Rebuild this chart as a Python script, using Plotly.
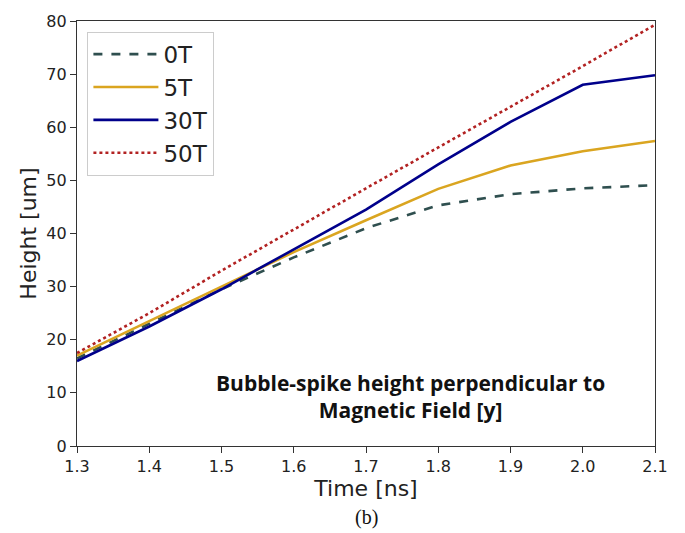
import plotly.graph_objects as go

time_ns = [1.3, 1.4, 1.5, 1.6, 1.7, 1.8, 1.9, 2.0, 2.1]
h_0T = [16.5, 23.0, 29.5, 35.5, 41.0, 45.3, 47.4, 48.5, 49.1]
h_5T = [17.0, 23.5, 30.0, 36.5, 42.5, 48.4, 52.8, 55.5, 57.4]
h_30T = [16.0, 22.5, 29.5, 37.0, 44.5, 53.0, 61.0, 68.0, 69.8]
h_50T = [17.5, 25.0, 33.0, 40.8, 48.5, 56.2, 63.8, 71.5, 79.3]

series = [
    ("0T", h_0T, "#2F4F4F", "dash"),
    ("5T", h_5T, "#DAA520", "solid"),
    ("30T", h_30T, "#00008B", "solid"),
    ("50T", h_50T, "#B22222", "dot"),
]

fig = go.Figure()
for name, ys, color, dash in series:
    fig.add_trace(go.Scatter(x=time_ns, y=ys, mode="lines", name=name,
                             line=dict(color=color, width=2.6, dash=dash)))

axis_common = dict(showgrid=False, zeroline=False, showline=True, linecolor="#333",
                   linewidth=1.2, mirror=True, ticks="outside", ticklen=6,
                   tickcolor="#333", tickfont=dict(family="DejaVu Sans", size=16, color="#222"))

fig.update_xaxes(range=[1.3, 2.1], tickvals=time_ns,
                 ticktext=["1.3", "1.4", "1.5", "1.6", "1.7", "1.8", "1.9", "2.0", "2.1"],
                 title=dict(text="Time [ns]", font=dict(family="DejaVu Sans", size=22, color="#222"), standoff=3),
                 **axis_common)
fig.update_yaxes(range=[0, 80], tickvals=[0, 10, 20, 30, 40, 50, 60, 70, 80],
                 title=dict(text="Height [um]", font=dict(family="DejaVu Sans", size=22, color="#222"), standoff=3),
                 **axis_common)

fig.add_annotation(x=1.761, y=9.3, xref="x", yref="y",
                   text="<b>Bubble-spike height perpendicular to<br>Magnetic Field [y]</b>",
                   showarrow=False, font=dict(family="Open Sans", size=21, color="#111"),
                   align="center")
fig.add_annotation(x=0.5, y=-0.168, xref="paper", yref="paper", text="(b)",
                   showarrow=False, font=dict(family="Liberation Serif", size=20, color="#111"),
                   yanchor="middle")

fig.update_layout(
    width=685, height=533,
    margin=dict(l=77, r=30, t=15, b=87),
    paper_bgcolor="white", plot_bgcolor="white",
    legend=dict(x=0.018, y=0.975, xanchor="left", yanchor="top",
                bgcolor="rgba(255,255,255,0.8)", bordercolor="#ccc", borderwidth=1,
                font=dict(family="DejaVu Sans", size=23, color="#222"),
                itemwidth=65, tracegroupgap=0),
    showlegend=True,
)

fig.write_html("out.html")
